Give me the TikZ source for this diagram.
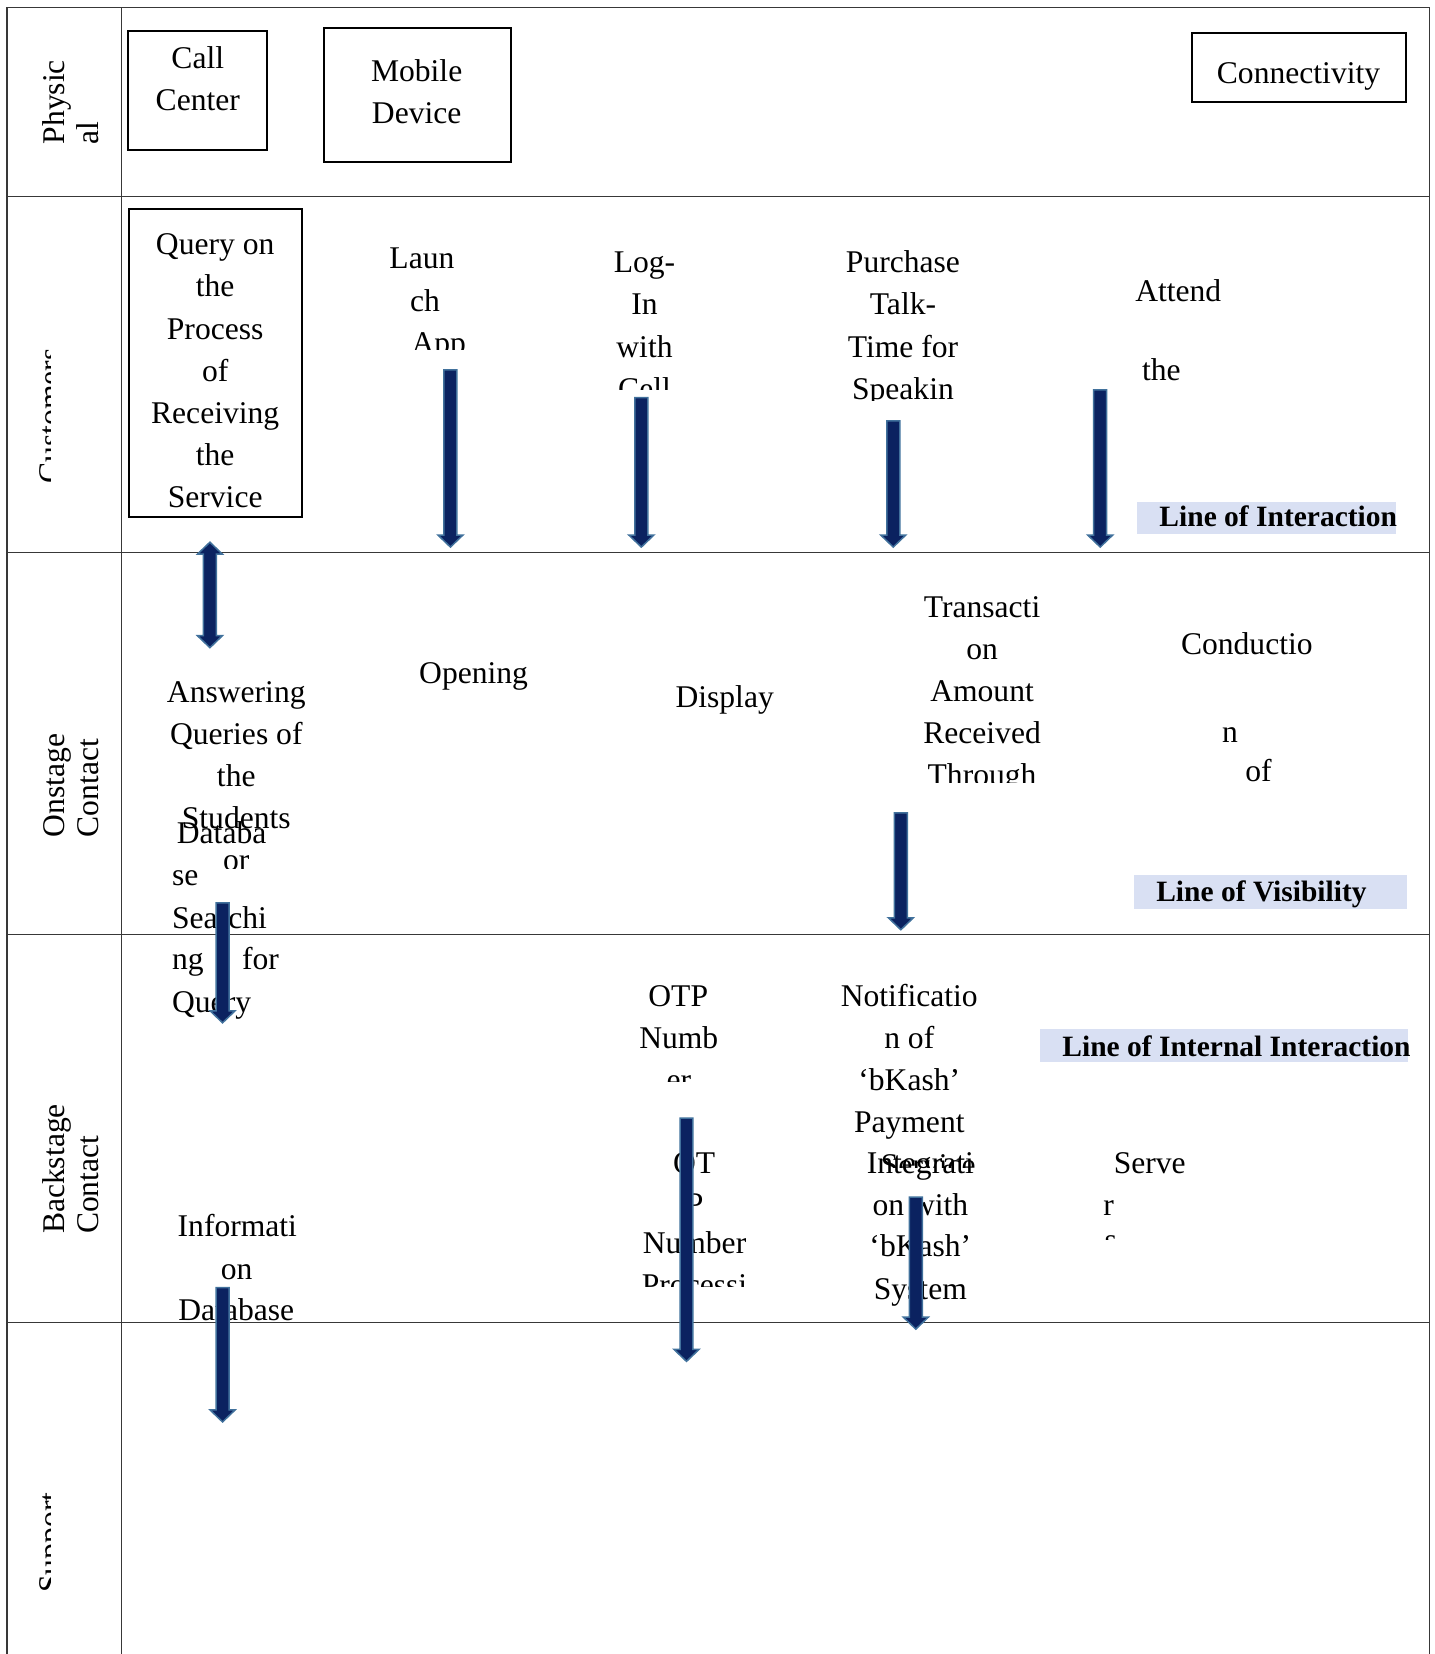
\documentclass[tikz,border=0pt]{standalone}
\usepackage{fontspec}
\setmainfont{Liberation Serif}
\definecolor{navy}{HTML}{0B2260}
\definecolor{outl}{HTML}{41719C}
\definecolor{lblue}{HTML}{D9E0F3}
\definecolor{gridc}{HTML}{383838}
\tikzset{
  txt/.style={anchor=base, inner sep=0pt, font=\fontsize{31.6}{42}\selectfont},
  txtw/.style={txt, anchor=base west},
  txte/.style={txt, anchor=base east},
  side/.style={txt, anchor=base west, rotate=90},
  lbltxt/.style={anchor=base west, inner sep=0pt, font=\fontsize{29.5}{36}\selectfont\bfseries},
  lblbg/.style={anchor=north west, fill=lblue, draw=none, inner sep=0pt},
  boxst/.style={draw=black, line width=2pt, inner sep=0pt},
  gridline/.style={draw=gridc, line width=1.3pt},
  arrowfill/.style={fill=navy, draw=outl, line width=1.5pt, line join=miter},
}
\newcommand\dnarrow[2]{%
  \filldraw[arrowfill] ([xshift=-6.5pt]#1) -- ([xshift=-6.5pt,yshift=12pt]#2) -- ([xshift=-12.5pt,yshift=12pt]#2) -- (#2) -- ([xshift=12.5pt,yshift=12pt]#2) -- ([xshift=6.5pt,yshift=12pt]#2) -- ([xshift=6.5pt]#1) -- cycle;}
\newcommand\bothArrow[2]{%
  \filldraw[arrowfill] (#1) -- ([xshift=12.5pt,yshift=-12pt]#1) -- ([xshift=6.5pt,yshift=-12pt]#1) -- ([xshift=6.5pt,yshift=12pt]#2) -- ([xshift=12.5pt,yshift=12pt]#2) -- (#2) -- ([xshift=-12.5pt,yshift=12pt]#2) -- ([xshift=-6.5pt,yshift=12pt]#2) -- ([xshift=-6.5pt,yshift=-12pt]#1) -- ([xshift=-12.5pt,yshift=-12pt]#1) -- cycle;}
\begin{document}
\begin{tikzpicture}[x=1.0551pt, y=-1.0551pt]
\useasboundingbox (0,0) rectangle (1360,1568);

% ---------- table grid ----------
\draw[gridline] (6.5,7) -- (1355,7);
\draw[gridline] (6.5,7) -- (6.5,1568);
\draw[gridline] (115.3,7) -- (115.3,1568);
\draw[gridline] (1355,7) -- (1355,1568);
\foreach \yy in {186.5,524,886,1254} \draw[gridline] (6.5,\yy) -- (1355,\yy);

% ---------- side labels ----------
\node[side] (sphys1) at (61,137) {Physic};
\node[side] (sphys2) at (93.5,137) {al};
\begin{scope}
  \clip (20,320) rectangle (47.5,470);
  \node[side] (scust) at (57,458.5) {Customers};
\end{scope}
\node[side] (sons1) at (61,794) {Onstage};
\node[side] (sons2) at (93.5,794) {Contact};
\node[side] (sback1) at (61,1170) {Backstage};
\node[side] (sback2) at (93.5,1170) {Contact};
\begin{scope}
  \clip (20,1400) rectangle (47.5,1520);
  \node[side] (ssup) at (57,1510) {Support};
\end{scope}

% ---------- physical row ----------
\node[boxst, minimum width=139.3pt, minimum height=119.2pt] (ccbox) at (187,85.5) {};
\node[txt] (cc1) at (187.5,64.6) {Call};
\node[txt] (cc2) at (187.5,104.6) {Center};
\node[boxst, minimum width=186.8pt, minimum height=134pt] (mdbox) at (395.5,90.5) {};
\node[txt] (md1) at (395,77.4) {Mobile};
\node[txt] (md2) at (395,117) {Device};
\node[boxst, minimum width=214.2pt, minimum height=69.6pt] (cnbox) at (1231.5,64) {};
\node[txt] (cn1) at (1231,79.5) {Connectivity};

% ---------- customers row ----------
\node[boxst, minimum width=173pt, minimum height=308.1pt] (qbox) at (204,344) {};
\node[txt] (q1) at (204,241.5) {Query on};
\node[txt] (q2) at (204,281.5) {the};
\node[txt] (q3) at (204,321.5) {Process};
\node[txt] (q4) at (204,361.5) {of};
\node[txt] (q5) at (204,401.5) {Receiving};
\node[txt] (q6) at (204,441.5) {the};
\node[txt] (q7) at (204,481.5) {Service};

\node[txt] (la1) at (400,254.5) {Laun};
\node[txt] (la2) at (403,295.5) {ch};
\begin{scope}
  \clip (350,300) rectangle (470,331);
  \node[txt] (la3) at (416,335.5) {App};
\end{scope}

\node[txt] (lg1) at (611,258) {Log-};
\node[txt] (lg2) at (611,298.5) {In};
\node[txt] (lg3) at (611,338.5) {with};
\begin{scope}
  \clip (560,345) rectangle (670,369);
  \node[txt] (lg4) at (611,378.5) {Cell};
\end{scope}

\node[txt] (pu1) at (856,258) {Purchase};
\node[txt] (pu2) at (856,298.5) {Talk-};
\node[txt] (pu3) at (856,338.5) {Time for};
\begin{scope}
  \clip (780,345) rectangle (940,379.5);
  \node[txt] (pu4) at (856,379) {Speakin};
\end{scope}

\node[txt] (at1) at (1117,285.5) {Attend};
\node[txt] (at2) at (1101,360.5) {the};

\node[lblbg, minimum width=258.5pt, minimum height=32.7pt] (loibg) at (1078,475.5) {};
\node[lbltxt] (loi) at (1099,499.5) {Line of Interaction};

% ---------- onstage row ----------
\node[txt] (an1) at (224,665.5) {Answering};
\node[txt] (an2) at (224,705.5) {Queries of};
\node[txt] (an3) at (224,745.5) {the};
\node[txt] (an4) at (224,785.5) {Students};
\begin{scope}
  \clip (170,795) rectangle (280,823);
  \node[txt] (an5) at (224,825.5) {or};
\end{scope}

\node[txtw] (db1) at (167.5,799.5) {Databa};
\node[txtw] (db2) at (163,839.5) {se};
\node[txtw] (db3) at (163,880) {Searchi};
\node[txtw] (db4) at (163,919.5) {ng};
\node[txte] (db5) at (264.7,919.5) {for};
\node[txtw] (db6) at (163,959.5) {Query};

\node[txt] (op) at (449,648) {Opening};
\node[txt] (di) at (687,670.5) {Display};

\node[txt] (tr1) at (931,585) {Transacti};
\node[txt] (tr2) at (931,625) {on};
\node[txt] (tr3) at (931,665) {Amount};
\node[txt] (tr4) at (931,705) {Received};
\begin{scope}
  \clip (860,712) rectangle (1000,741.5);
  \node[txt] (tr5) at (931,745) {Through};
\end{scope}

\node[txt] (co1) at (1182,620.5) {Conductio};
\node[txt] (co2) at (1166,703.5) {n};
\node[txt] (co3) at (1193,740.5) {of};

\node[lblbg, minimum width=273.3pt, minimum height=34.3pt] (lovbg) at (1075,829) {};
\node[lbltxt] (lov) at (1096,855) {Line of Visibility};

% ---------- backstage row ----------
\node[txt] (ot1) at (643,954) {OTP};
\node[txt] (ot2) at (643.5,994) {Numb};
\begin{scope}
  \clip (600,1000) rectangle (690,1025);
  \node[txt] (ot3) at (643.5,1034) {er};
\end{scope}

\node[txt] (nt1) at (862,954) {Notificatio};
\node[txt] (nt2) at (862,994) {n of};
\node[txt] (nt3) at (862,1034) {‘bKash’};
\node[txt] (nt4) at (862,1074) {Payment};
\begin{scope}
  \clip (800,1080) rectangle (930,1107);
  \node[txt] (nt5) at (880,1114) {Service};
\end{scope}

\node[txt] (in1) at (872.5,1112) {Integrati};
\node[txt] (in2) at (872.5,1152.5) {on with};
\node[txt] (in3) at (872.5,1191.5) {‘bKash’};
\node[txt] (in4) at (872.5,1232) {System};

\node[txt] (op1) at (658,1112) {OT};
\begin{scope}
  \clip (620,1118) rectangle (700,1147);
  \node[txt] (op2) at (658.5,1151.5) {P};
\end{scope}
\node[txt] (op3) at (658.4,1188.5) {Number};
\begin{scope}
  \clip (590,1196) rectangle (730,1219.5);
  \node[txt] (op4) at (658.4,1228.5) {Processi};
\end{scope}

\node[txt] (sv1) at (1090,1112.3) {Serve};
\node[txt] (sv2) at (1051,1152) {r};
\begin{scope}
  \clip (1030,1160) rectangle (1080,1175);
  \node[txt] (sv3) at (1053,1185) {s};
\end{scope}

\node[txt] (if1) at (225,1172.5) {Informati};
\node[txt] (if2) at (224.4,1213) {on};
\node[txt] (if3) at (224,1251.5) {Database};

\node[lblbg, minimum width=368.2pt, minimum height=33.4pt] (loiibg) at (986,975.3) {};
\node[lbltxt] (loii) at (1007,1001.2) {Line of Internal Interaction};

% ---------- arrows ----------
\coordinate (a1s) at (427,350.7);   \coordinate (a1e) at (427,518.6);
\coordinate (a2s) at (608,377);     \coordinate (a2e) at (608,518.6);
\coordinate (a3s) at (846.8,399);   \coordinate (a3e) at (846.8,518.6);
\coordinate (a4s) at (1043,369.6);  \coordinate (a4e) at (1043,518.6);
\coordinate (bds) at (199,514);     \coordinate (bde) at (199,614);
\coordinate (a5s) at (854,770.7);   \coordinate (a5e) at (854,881.4);
\coordinate (a6s) at (211,856);     \coordinate (a6e) at (211,969.6);
\coordinate (a7s) at (650.8,1060);  \coordinate (a7e) at (650.8,1290.6);
\coordinate (a8s) at (868.2,1134.8);\coordinate (a8e) at (868.2,1260);
\coordinate (a9s) at (211,1220.7);  \coordinate (a9e) at (211,1348);
\dnarrow{a1s}{a1e}
\dnarrow{a2s}{a2e}
\dnarrow{a3s}{a3e}
\dnarrow{a4s}{a4e}
\bothArrow{bds}{bde}
\dnarrow{a5s}{a5e}
\dnarrow{a6s}{a6e}
\dnarrow{a7s}{a7e}
\dnarrow{a8s}{a8e}
\dnarrow{a9s}{a9e}
\end{tikzpicture}
\end{document}
